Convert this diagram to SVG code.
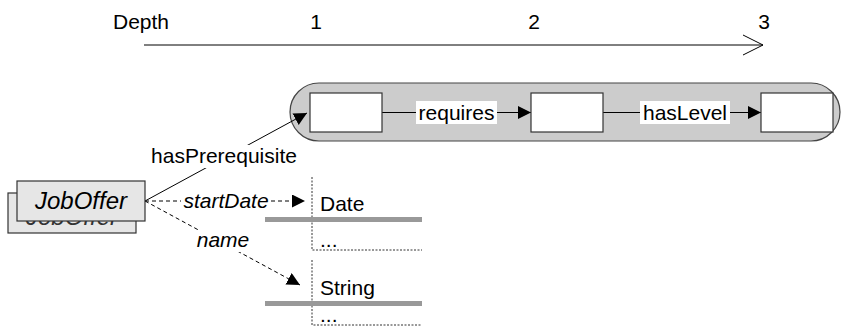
<svg xmlns="http://www.w3.org/2000/svg" width="841" height="336" viewBox="0 0 841 336">
<defs>
<style>
text{font-family:"Liberation Sans",Arial,sans-serif;font-size:21px;fill:#000}
.it{font-style:italic}
.box{fill:#fff;stroke:#333;stroke-width:1.2}
.jo{fill:#e6e6e6;stroke:#333;stroke-width:1.2}
.ln{stroke:#000;stroke-width:1;fill:none}
.dash{stroke:#000;stroke-width:1;fill:none;stroke-dasharray:4,3}
.dot{stroke:#333;stroke-width:1;fill:none;stroke-dasharray:2,1.5}
.bar{fill:#999}
.lbl{fill:#fff}
</style>
<marker id="tri" markerUnits="userSpaceOnUse" markerWidth="14" markerHeight="14" refX="13" refY="6.5" orient="auto">
<path d="M0,0 L13,6.5 L0,13 z" fill="#000"/>
</marker>
</defs>

<g id="axis">
<text x="113" y="29">Depth</text>
<text x="316" y="29" text-anchor="middle">1</text>
<text x="534" y="29" text-anchor="middle">2</text>
<text x="764" y="29" text-anchor="middle">3</text>
<line class="ln" x1="144" y1="45" x2="763" y2="45"/>
<polyline class="ln" points="743,35 763,45 743,55"/>
</g>

<g id="path-container">
<rect x="290" y="83" width="550" height="58" rx="29" fill="#ccc" stroke="#444" stroke-width="1.2"/>
</g>

<g id="connectors">
<line class="ln" x1="382" y1="112.5" x2="531" y2="112.5" marker-end="url(#tri)"/>
<line class="ln" x1="603" y1="112.5" x2="761" y2="112.5" marker-end="url(#tri)"/>
<line class="ln" x1="145" y1="201" x2="307" y2="113" marker-end="url(#tri)"/>
<line class="dash" x1="145" y1="201" x2="305" y2="201" marker-end="url(#tri)"/>
<line class="dash" x1="145" y1="201" x2="300" y2="285" marker-end="url(#tri)"/>
<rect class="lbl" x="416" y="101" width="81" height="23"/>
<text x="456.5" y="120" text-anchor="middle">requires</text>
<rect class="lbl" x="640" y="101" width="90" height="23"/>
<text x="685" y="120" text-anchor="middle">hasLevel</text>
<rect class="lbl" x="150" y="145" width="148" height="23"/>
<text x="224" y="163" text-anchor="middle">hasPrerequisite</text>
<rect class="lbl" x="181" y="190" width="90" height="23"/>
<text class="it" x="226" y="208" text-anchor="middle">startDate</text>
<rect class="lbl" x="195" y="230" width="56" height="22"/>
<text class="it" x="223" y="247" text-anchor="middle">name</text>
</g>

<g id="step1"><rect class="box" x="310" y="93" width="72" height="39"/></g>
<g id="step2"><rect class="box" x="531" y="93" width="72" height="39"/></g>
<g id="step3"><rect class="box" x="761" y="93" width="72" height="39"/></g>

<g id="JobOffer">
<rect class="jo" x="8" y="193" width="128" height="40"/>
<text class="it" x="72" y="225" text-anchor="middle" style="font-size:24px;fill:#333">JobOffer</text>
<rect class="jo" x="17" y="181" width="128" height="40"/>
<text class="it" x="81" y="209" text-anchor="middle" style="font-size:24px">JobOffer</text>
</g>

<g id="Date">
<polyline class="dot" points="312,177 312,250 422,250"/>
<rect class="bar" x="265" y="217" width="157" height="5"/>
<text x="320" y="211">Date</text>
<text x="320" y="247">...</text>
</g>

<g id="String">
<polyline class="dot" points="312,260 312,325 422,325"/>
<rect class="bar" x="265" y="301" width="157" height="5"/>
<text x="320" y="295">String</text>
<text x="320" y="322">...</text>
</g>
</svg>
